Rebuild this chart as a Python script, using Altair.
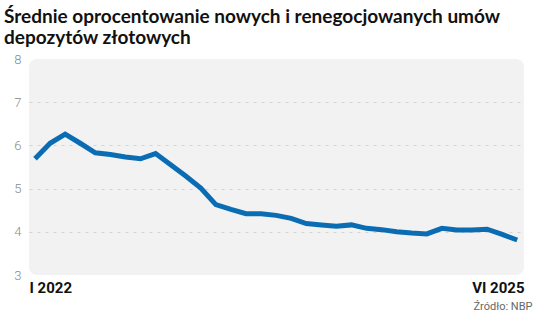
import altair as alt
import pandas as pd

title_lines = ["Średnie oprocentowanie nowych i renegocjowanych umów", "depozytów złotowych"]
source_text = "Źródło: NBP"
x_tick_labels = ["I 2022", "VI 2025"]
y_ticks = [3, 4, 5, 6, 7, 8]

values = [5.69, 6.05, 6.26, 6.05, 5.83, 5.79, 5.73, 5.69, 5.81, 5.55, 5.29, 5.01,
          4.63, 4.52, 4.42, 4.42, 4.38, 4.31, 4.19, 4.16, 4.13, 4.16, 4.08, 4.05,
          4.00, 3.97, 3.95, 4.08, 4.04, 4.04, 4.06, 3.94, 3.81]
period = list(range(len(values)))

df = pd.DataFrame({"period": period, "value": values})

x_lo, x_hi = -0.4, len(values) - 1 + 0.45
label_expr = f"datum.value < 0 ? '{x_tick_labels[0]}' : '{x_tick_labels[1]}'"

W, H = 495, 216
chart = alt.Chart(df).mark_line(color="#0a6db3", strokeWidth=5, strokeJoin="miter", strokeCap="butt").encode(
    x=alt.X("period:Q", scale=alt.Scale(domain=[x_lo, x_hi], nice=False, zero=False),
            axis=alt.Axis(values=[x_lo, x_hi], labelExpr=label_expr, labelFlush=True,
                          domain=False, ticks=False, grid=False, labelPadding=5,
                          labelFont="Roboto", labelFontSize=15, labelFontWeight="bold",
                          labelColor="#111111", title=source_text, titleAnchor="end",
                          titleAlign="right", titleX=W + 8,
                          titleFont="Roboto", titleFontSize=11, titleFontWeight="normal",
                          titleColor="#666666", titlePadding=5)),
    y=alt.Y("value:Q", scale=alt.Scale(domain=[3, 8], nice=False, zero=False),
            axis=alt.Axis(values=y_ticks, domain=False, ticks=False, title=None,
                          labelFont="Roboto", labelFontSize=13, labelFontWeight=300,
                          labelColor="#8a8a8a", labelPadding=8,
                          gridColor="#d9d4cf", gridDash=[3, 5], gridWidth=1,
                          gridOpacity=alt.condition("datum.value == 3 || datum.value == 8",
                                                    alt.value(0), alt.value(1)))),
).properties(
    width=W, height=H,
    title=alt.TitleParams(text=title_lines, anchor="start", frame="group", dx=-25,
                          font="Lato", fontSize=19, fontWeight="bold", color="#111111",
                          lineHeight=21, offset=5),
    autosize=alt.AutoSizeParams(type="none"),
    padding={"left": 29, "top": 59, "right": 12, "bottom": 42},
).configure_view(fill="#f2f2f2", stroke=None, cornerRadius=8)

chart.save("out.html", embed_options={"renderer": "svg", "actions": False})
